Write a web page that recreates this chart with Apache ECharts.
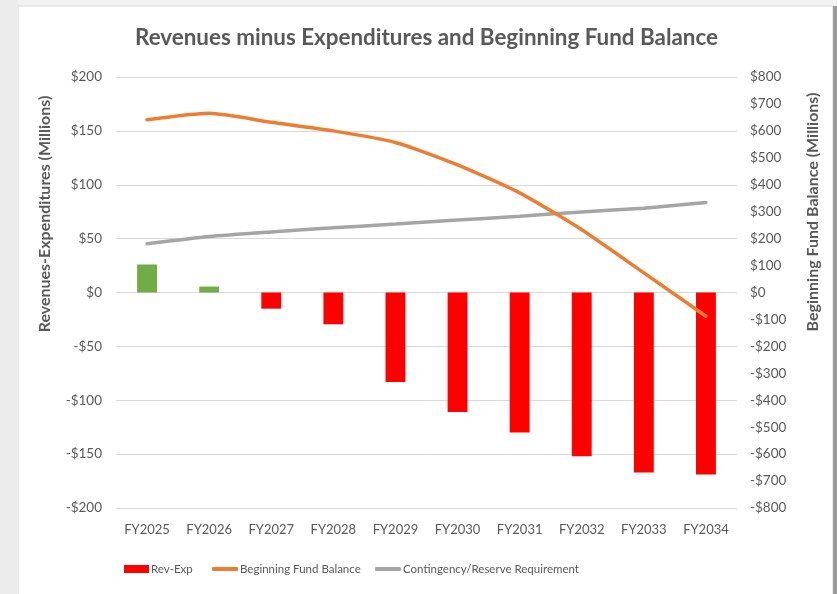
<!DOCTYPE html>
<html>
<head>
<meta charset="utf-8">
<script src="https://cdn.jsdelivr.net/npm/echarts@6/dist/echarts.min.js"></script>
<style>
  html, body { margin: 0; padding: 0; background: #f2f2f2; }
  #container { width: 837px; height: 594px; }
</style>
</head>
<body>
<div id="container"></div>
<script>
var dom = document.getElementById("container");
var myChart = echarts.init(dom);

// data (millions of dollars)
var years = ['FY2025', 'FY2026', 'FY2027', 'FY2028', 'FY2029', 'FY2030', 'FY2031', 'FY2032', 'FY2033', 'FY2034'];
var revExp = [26, 5.5, -15, -29.5, -83, -111, -130, -152, -167, -169];
var fundBalance = [641, 665, 632, 600, 557, 474, 370, 233, 73, -88];
var reserve = [181, 208, 225, 240, 254, 269, 283, 299, 313, 334];

var gray = '#595959';
var font = 'Lato, "Open Sans", sans-serif';

function money(v) {
    return v < 0 ? '-$' + Math.abs(v) : '$' + v;
}

// positive years are drawn green, the rest keep the series red
var barData = revExp.map(function (v) {
    return v >= 0 ? { value: v, itemStyle: { color: '#70ad47' } } : v;
});

var option = {
    backgroundColor: '#f2f2f2',
    textStyle: { fontFamily: font },
    graphic: [
        { type: 'rect', shape: { x: 0, y: 0, width: 18, height: 594 }, style: { fill: '#ececec' }, silent: true },
        { type: 'rect', shape: { x: 18, y: 6, width: 815, height: 594 }, style: { fill: '#ffffff', stroke: '#d9d9d9', lineWidth: 1 }, silent: true, z: -1 },
        { type: 'rect', shape: { x: 833, y: 6, width: 4, height: 594 }, style: { fill: '#9a9a9a' }, silent: true },
        // axis titles sit above the middle of the axes, as in the original
        {
            type: 'text', x: 45, y: 214, rotation: Math.PI / 2,
            style: {
                text: 'Revenues-Expenditures (Millions)', align: 'center', verticalAlign: 'middle',
                fill: gray, fontFamily: font, fontSize: 16, fontWeight: 'bold'
            }
        },
        {
            type: 'text', x: 813, y: 212, rotation: Math.PI / 2,
            style: {
                text: 'Beginning Fund Balance (Millions)', align: 'center', verticalAlign: 'middle',
                fill: gray, fontFamily: font, fontSize: 16, fontWeight: 'bold'
            }
        }
    ],
    title: {
        text: 'Revenues minus Expenditures and Beginning Fund Balance',
        left: 130,
        top: 22,
        textStyle: { fontFamily: font, fontSize: 22.4, fontWeight: 'bold', color: gray }
    },
    legend: [{
        data: ['Rev-Exp'], left: 119, top: 558, itemWidth: 25, itemHeight: 8,
        icon: 'rect', textStyle: { color: gray, fontSize: 11.5, padding: [0, 0, 0, -3] }
    }, {
        data: ['Beginning Fund Balance'], left: 207, top: 558, itemWidth: 26, itemHeight: 4,
        icon: 'roundRect', textStyle: { color: gray, fontSize: 11.5, padding: [0, 0, 0, -3] }
    }, {
        data: ['Contingency/Reserve Requirement'], left: 370, top: 558, itemWidth: 26, itemHeight: 4,
        icon: 'roundRect', textStyle: { color: gray, fontSize: 11.5, padding: [0, 0, 0, -3] }
    }],
    grid: { left: 116, right: 100, top: 77, bottom: 86 },
    xAxis: {
        type: 'category',
        data: years,
        axisLine: { show: false },
        axisTick: { show: false },
        axisLabel: { color: gray, fontSize: 13, margin: 15 }
    },
    yAxis: [{
        type: 'value',
        min: -200, max: 200, interval: 50,
        axisLabel: { color: gray, fontSize: 13.5, margin: 14, formatter: money },
        splitLine: { lineStyle: { color: '#d9d9d9', width: 1 } }
    }, {
        type: 'value',
        min: -800, max: 800, interval: 100,
        axisLabel: { color: gray, fontSize: 13.5, margin: 13, formatter: money },
        splitLine: { show: false }
    }],
    series: [{
        name: 'Rev-Exp',
        type: 'bar',
        yAxisIndex: 0,
        barWidth: '32%',
        data: barData,
        itemStyle: { color: '#ff0000' },
        z: 2
    }, {
        name: 'Beginning Fund Balance',
        type: 'line',
        yAxisIndex: 1,
        data: fundBalance,
        smooth: 0.2,
        symbol: 'none',
        lineStyle: { color: '#ed7d31', width: 3.5, cap: 'round' },
        itemStyle: { color: '#ed7d31' },
        z: 4
    }, {
        name: 'Contingency/Reserve Requirement',
        type: 'line',
        yAxisIndex: 1,
        data: reserve,
        smooth: 0.2,
        symbol: 'none',
        lineStyle: { color: '#a5a5a5', width: 3.5, cap: 'round' },
        itemStyle: { color: '#a5a5a5' },
        z: 3
    }]
};

if (option && typeof option === "object") {
    myChart.setOption(option, true);
}
</script>
</body>
</html>
